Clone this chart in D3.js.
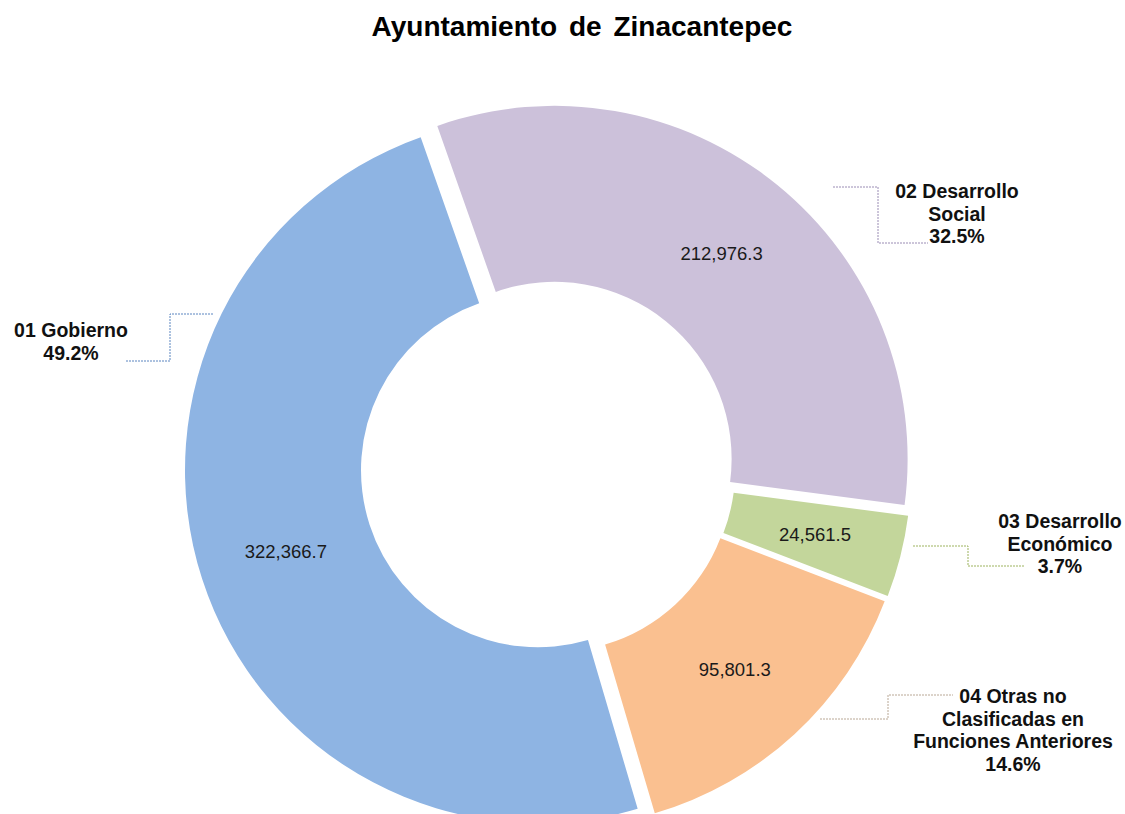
<head><meta charset="utf-8"></head>
<body style="margin:0; background:#fff">
    <div id="grafica"></div>
</body>
<script src="https://cdn.jsdelivr.net/npm/d3@7"></script>
<script>
    var width = 1125,
        height = 814;

    // datos
    var funciones = ['01 Gobierno', '02 Desarrollo Social', '03 Desarrollo Económico', '04 Otras no Clasificadas en Funciones Anteriores'];
    var montos = [322366.7, 212976.3, 24561.5, 95801.3];

    // estilo
    var colores = ['#8EB4E3', '#CCC1DA', '#C3D69B', '#FAC090'];
    var colores_guia = ['#5B85C0', '#9A8CB4', '#9DB35E', '#B9A896'];

    var centro = [548, 467],
        radio = 353,
        radio_int = 177,
        explosion = 10.5,
        angulo_inicio = 163.6 * Math.PI / 180;

    // etiquetas puestas a mano (como en el original)
    var etiquetas = [
        {x: 71, y: 337, lineas: ['01 Gobierno'], guia: [[213, 314], [170, 314], [170, 361], [126, 361]]},
        {x: 957, y: 198, lineas: ['02 Desarrollo', 'Social'], guia: [[833, 187], [878, 187], [878, 243], [928, 243]]},
        {x: 1060, y: 528, lineas: ['03 Desarrollo', 'Económico'], guia: [[913, 546], [968, 546], [968, 566], [1025, 566]]},
        {x: 1013, y: 703, lineas: ['04 Otras no', 'Clasificadas en', 'Funciones Anteriores'], guia: [[820, 719], [888, 719], [888, 695], [953, 695]]}
    ];
    var interlinea = 22.5;

    var total = d3.sum(montos);
    var fmt_monto = d3.format(',.1f'),
        fmt_pct = d3.format('.1%');

    var svg = d3.select('#grafica')
        .append('svg')
        .attr('width', width)
        .attr('height', height)
        .style('font-family', '"Liberation Sans", Arial, sans-serif');

    svg.append('text')
        .attr('x', 582)
        .attr('y', 36)
        .attr('text-anchor', 'middle')
        .style('font-size', '28px')
        .style('font-weight', 'bold')
        .style('word-spacing', '4px')
        .text('Ayuntamiento de Zinacantepec');

    var pie = d3.pie()
        .sort(null)
        .startAngle(angulo_inicio)
        .endAngle(angulo_inicio + 2 * Math.PI);

    var arc = d3.arc()
        .innerRadius(radio_int)
        .outerRadius(radio);

    var rebanadas = svg.selectAll('g.rebanada')
        .data(pie(montos))
        .enter()
        .append('g')
        .attr('class', 'rebanada')
        .attr('transform', function(d){
            var medio = (d.startAngle + d.endAngle) / 2;
            var x = centro[0] + explosion * Math.sin(medio),
                y = centro[1] - explosion * Math.cos(medio);
            return 'translate(' + x + ',' + y + ')';
        });

    rebanadas.append('path')
        .attr('d', arc)
        .style('fill', function(d, i){return colores[i]});

    rebanadas.append('text')
        .attr('transform', function(d){return 'translate(' + arc.centroid(d) + ')'})
        .attr('text-anchor', 'middle')
        .attr('dy', '0.35em')
        .style('font-size', '18.5px')
        .style('fill', '#1a1a1a')
        .text(function(d){return fmt_monto(d.data)});

    var linea = d3.line();

    svg.selectAll('path.guia')
        .data(etiquetas)
        .enter()
        .append('path')
        .attr('class', 'guia')
        .attr('d', function(d){return linea(d.guia)})
        .style('fill', 'none')
        .style('stroke', function(d, i){return colores_guia[i]})
        .style('stroke-width', 1)
        .style('stroke-dasharray', '2,1');

    var grupos = svg.selectAll('text.etiqueta')
        .data(etiquetas)
        .enter()
        .append('text')
        .attr('class', 'etiqueta')
        .attr('text-anchor', 'middle')
        .style('font-size', '19.5px')
        .style('font-weight', 'bold')
        .style('fill', '#111');

    grupos.each(function(d, i){
        var t = d3.select(this);
        var lineas = d.lineas.concat([fmt_pct(montos[i] / total)]);
        lineas.forEach(function(l, j){
            t.append('tspan')
                .attr('x', d.x)
                .attr('y', d.y + j * interlinea)
                .text(l);
        });
    });
</script>
